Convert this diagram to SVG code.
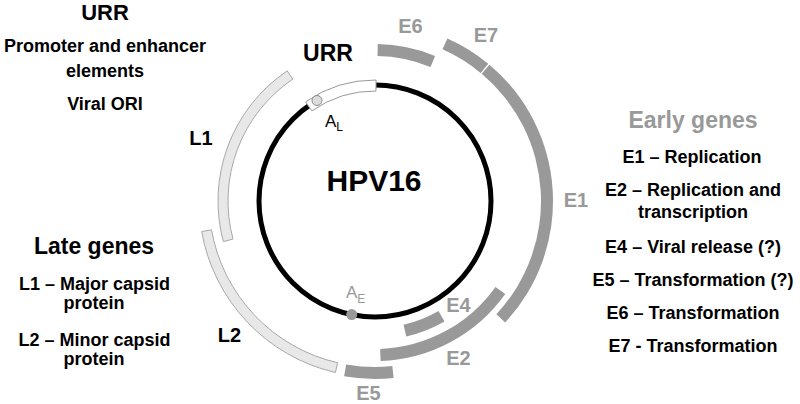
<svg xmlns="http://www.w3.org/2000/svg" width="800" height="404" viewBox="0 0 800 404">
<style>
text{font-family:"Liberation Sans",Arial,sans-serif;font-weight:bold}
.blk{fill:#000}
.gry{fill:#999}
.lbl{font-size:20px;text-anchor:middle}
.mid{text-anchor:middle}
.t18{font-size:18px}
.t23{font-size:23px}
.late{fill:#e8e8e8;stroke:#a8a8a8;stroke-width:1}
.early{fill:#999;stroke:none}
.reg{font-weight:normal}
</style>
<rect width="800" height="404" fill="#fff"/>

<g id="genome">
<circle cx="375" cy="201" r="116" fill="none" stroke="#000" stroke-width="5"/>
</g>
<g id="urr-box">
<path d="M305.59,101.88 A121,121 0 0 1 376.06,80 L375.96,91 A110,110 0 0 0 311.9,110.89 Z" fill="#fff" stroke="#999" stroke-width="1"/>
</g>
<g id="AL">
<circle cx="317" cy="100.5" r="5" fill="#ddd" stroke="#888" stroke-width="1"/>
<text x="325" y="127" class="reg blk" font-size="17">A<tspan font-size="12" dy="4">L</tspan></text>
</g>
<g id="AE">
<circle cx="351.7" cy="314.6" r="5.5" fill="#999"/>
<text x="346" y="298" class="reg gry" font-size="17">A<tspan font-size="12" dy="5">E</tspan></text>
</g>

<g id="L1">
<path class="late" d="M223.35,241.63 A157,157 0 0 1 287.21,70.85 L292.8,79.14 A147,147 0 0 0 233.01,239.04 Z"/>
<text x="201" y="145" class="lbl blk">L1</text>
</g>
<g id="L2">
<path class="late" d="M335.4,372.49 A176,176 0 0 1 201.68,231.56 L211.52,229.82 A166,166 0 0 0 337.65,362.75 Z"/>
<text x="229.5" y="342" class="lbl blk">L2</text>
</g>
<g id="E5">
<path class="early" d="M393.6,378.02 A178,178 0 0 1 344.09,376.3 L346.17,364.48 A166,166 0 0 0 392.35,366.09 Z"/>
<text x="368.5" y="400" class="lbl gry">E5</text>
</g>
<g id="E2">
<path class="early" d="M505.26,293.91 A160,160 0 0 1 380.58,360.9 L380.17,348.91 A148,148 0 0 0 495.49,286.94 Z"/>
<text x="458.5" y="365" class="lbl gry">E2</text>
</g>
<g id="E4">
<path class="early" d="M444.5,321.38 A139,139 0 0 1 406.27,336.44 L403.58,324.75 A127,127 0 0 0 438.5,310.98 Z"/>
<text x="458.5" y="312" class="lbl gry">E4</text>
</g>
<g id="E1">
<path class="early" d="M489.42,64.65 A178,178 0 0 1 505.19,322.4 L496.41,314.21 A166,166 0 0 0 481.7,73.84 Z"/>
<text x="576" y="207" class="lbl gry">E1</text>
</g>
<g id="E7">
<path class="early" d="M447.4,38.4 A178,178 0 0 1 488.23,63.66 L480.59,72.91 A166,166 0 0 0 442.52,49.36 Z"/>
<text x="486" y="42" class="lbl gry">E7</text>
</g>
<g id="E6">
<path class="early" d="M377.74,44.02 A157,157 0 0 1 435.08,55.95 L430.49,67.03 A145,145 0 0 0 377.53,56.02 Z"/>
<text x="410.5" y="33" class="lbl gry">E6</text>
</g>
<g id="URR-label">
<text x="328" y="61" class="mid t23 blk">URR</text>
</g>
<g id="center-label">
<text x="374" y="191" class="mid blk" font-size="30">HPV16</text>
</g>

<g id="legend-urr">
<text x="105" y="20" class="mid blk" font-size="22">URR</text>
<text x="105" y="52" class="mid t18 blk">Promoter and enhancer</text>
<text x="105" y="77" class="mid t18 blk">elements</text>
<text x="105" y="110" class="mid t18 blk">Viral ORI</text>
</g>
<g id="legend-late">
<text x="94" y="254" class="mid t23 blk">Late genes</text>
<text x="94.5" y="290" class="mid t18 blk">L1 – Major capsid</text>
<text x="94" y="309" class="mid t18 blk">protein</text>
<text x="94.5" y="346" class="mid t18 blk">L2 – Minor capsid</text>
<text x="94" y="365" class="mid t18 blk">protein</text>
</g>
<g id="legend-early">
<text x="693" y="128" class="mid t23 gry">Early genes</text>
<text x="692" y="163" class="mid t18 blk">E1 – Replication</text>
<text x="693" y="196" class="mid t18 blk">E2 – Replication and</text>
<text x="693" y="218" class="mid t18 blk">transcription</text>
<text x="693" y="253" class="mid t18 blk">E4 – Viral release (?)</text>
<text x="693" y="286" class="mid t18 blk">E5 – Transformation (?)</text>
<text x="693" y="319" class="mid t18 blk">E6 – Transformation</text>
<text x="693" y="352" class="mid t18 blk">E7 - Transformation</text>
</g>
</svg>
